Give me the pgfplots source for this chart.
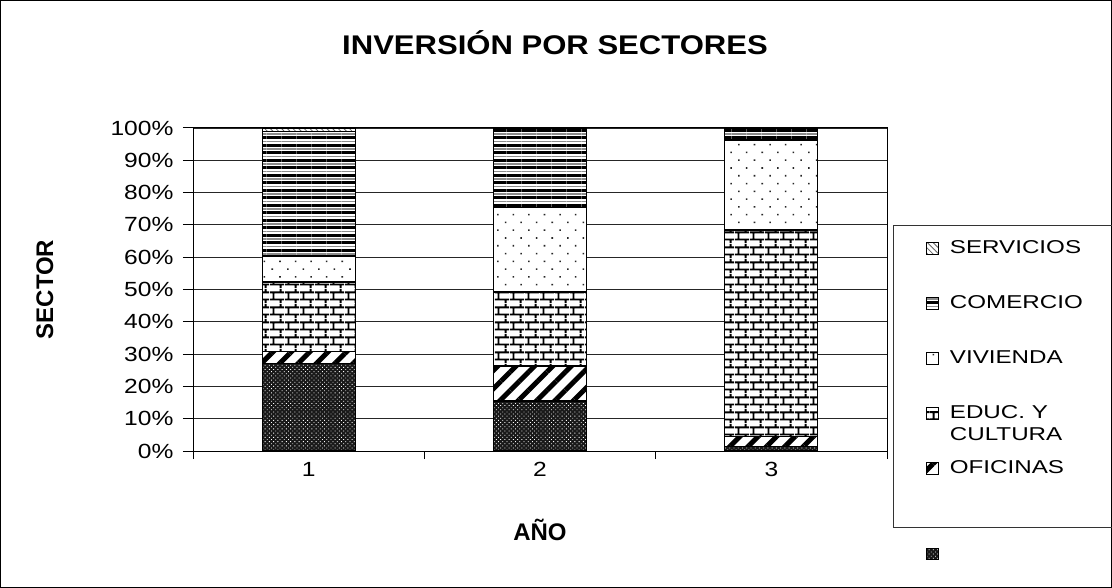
\documentclass[border=0pt]{standalone}
\usepackage{fontspec}
\setmainfont{Liberation Sans}
\newfontfamily\tickfont{Liberation Sans}[FakeStretch=1.2]
\newfontfamily\legfont{Liberation Sans}[FakeStretch=1.3]
\newfontfamily\titlefont{Liberation Sans}[FakeStretch=1.15]
\usepackage{pgfplots}
\pgfplotsset{compat=1.18}
\usetikzlibrary{patterns,patterns.meta}

\tikzdeclarepattern{
  name=mybricks,
  type=uncolored,
  bounding box={(0bp,0bp) and (15bp,15bp)},
  tile size={(15bp,15bp)},
  code={
    \draw[line width=2bp] (0bp,3.75bp) -- (15bp,3.75bp)
      (0bp,11.25bp) -- (15bp,11.25bp)
      (3.75bp,3.75bp) -- (3.75bp,11.25bp)
      (11.25bp,11.25bp) -- (11.25bp,15bp)
      (11.25bp,0bp) -- (11.25bp,3.75bp);
  }
}

\begin{document}
\begin{tikzpicture}
\useasboundingbox (0,0) rectangle (1112bp,588bp);
\fill[white] (0,0) rectangle (1112bp,588bp);
\draw[line width=1bp] (0.5bp,0.5bp) rectangle (1111.5bp,587.5bp);
\draw[line width=1bp, black!80] (893bp,60bp) rectangle (1125bp,362bp);
\begin{axis}[
  at={(193bp,137bp)}, anchor=south west,
  scale only axis, width=694bp, height=323bp,
  xmin=0.5, xmax=3.5, ymin=0, ymax=100,
  ybar stacked, bar width=93bp,
  xtick={1,2,3}, xticklabels={1,2,3},
  minor xtick={0.5,1.5,2.5,3.5},
  ytick={0,10,...,100},
  yticklabels={0\%,10\%,20\%,30\%,40\%,50\%,60\%,70\%,80\%,90\%,100\%},
  tick align=outside, tick pos=left,
  major tick length=10bp, minor tick length=8bp,
  every major x tick/.append style={draw=none},
  tick style={black, line width=1bp},
  ymajorgrids, grid style={black!85, line width=0.9bp},
  axis line style={line width=1bp},
  ticklabel style={font=\tickfont\fontsize{20.5bp}{24bp}\selectfont},
  yticklabel style={xshift=-6bp},
  xticklabel style={yshift=2bp},
  title={INVERSIÓN POR SECTORES},
  title style={font=\titlefont\bfseries\fontsize{27bp}{30bp}\selectfont,
    at={(axis description cs:0.5216,1.245)}, anchor=center},
  xlabel={AÑO},
  xlabel style={font=\bfseries\fontsize{24bp}{28bp}\selectfont,
    at={(axis description cs:0.5,-0.2446)}, anchor=center},
  ylabel={SECTOR},
  ylabel style={font=\bfseries\fontsize{24bp}{28bp}\selectfont,
    at={(axis description cs:-0.2133,0.5)}, anchor=center, rotate=0},
  reverse legend,
  legend image code/.code={\draw[#1] (0bp,-1bp) rectangle (11.5bp,10.5bp);},
  legend style={at={(axis description cs:1.0562,0.6533)}, anchor=north west,
    draw=none, fill=none, inner sep=0pt, row sep=40.5bp, column sep=11bp,
    nodes={inner sep=0pt, anchor=base west},
    font=\legfont\fontsize{18.6bp}{22bp}\selectfont},
  legend cell align=left,
]
% unnamed series (dense dots)
\addplot[draw=black, line width=1.2bp, preaction={fill=black!90},
  pattern={Dots[distance=3bp, angle=45, radius=0.6bp]}, pattern color=white]
  coordinates {(1,27.2) (2,15.5) (3,1.5)};
% OFICINAS
\addplot[draw=black, line width=1.2bp, preaction={fill=white},
  pattern={Lines[angle=45, distance=13bp, line width=5bp]}, pattern color=black]
  coordinates {(1,3.5) (2,10.8) (3,3.0)};
% EDUC. Y CULTURA
\addplot[draw=black, line width=1.2bp, preaction={fill=white},
  pattern=mybricks, pattern color=black]
  coordinates {(1,21.6) (2,22.9) (3,63.9)};
% VIVIENDA
\addplot[draw=black, line width=1.2bp, preaction={fill=white},
  pattern={Dots[distance=11bp, angle=45, radius=1.1bp]}, pattern color=black!85]
  coordinates {(1,8.1) (2,26.3) (3,27.9)};
% COMERCIO
\addplot[draw=black, line width=1.2bp, preaction={fill=white},
  preaction={pattern={Lines[angle=0, distance=7.5bp, yshift=3.75bp, line width=1.5bp]}, pattern color=black!45},
  pattern={Lines[angle=0, distance=7.5bp, line width=3bp]}, pattern color=black]
  coordinates {(1,38.5) (2,24.5) (3,3.7)};
% SERVICIOS
\addplot[draw=black, line width=1.2bp, preaction={fill=white},
  pattern={Lines[angle=-45, distance=4bp, line width=0.8bp]}, pattern color=black!60]
  coordinates {(1,1.1) (2,0) (3,0)};
\addlegendentry{\rule{0pt}{43.4bp}}
\addlegendentry{OFICINAS}
\addlegendentry{\smash{\begin{tabular}[t]{@{}l@{}}EDUC. Y\\CULTURA\end{tabular}}\vphantom{EDUC}}
\addlegendentry{VIVIENDA}
\addlegendentry{COMERCIO}
\addlegendentry{SERVICIOS}
\end{axis}
\end{tikzpicture}
\end{document}
